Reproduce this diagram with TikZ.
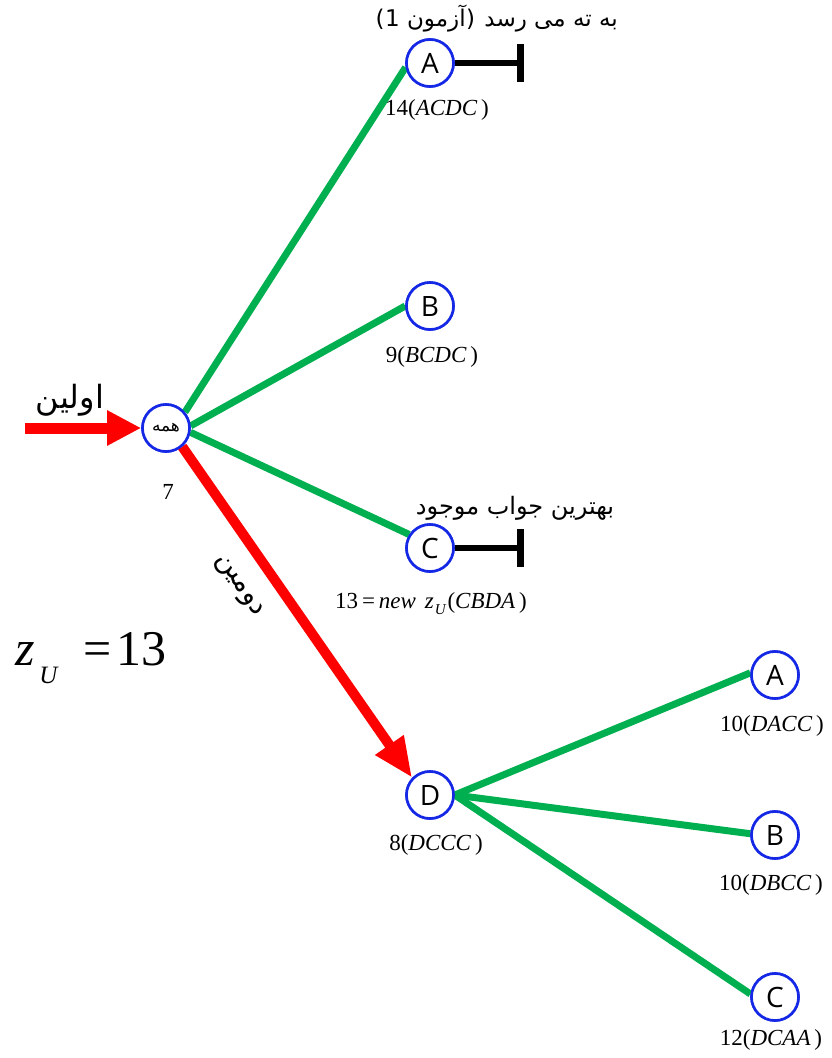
\documentclass[tikz,border=0pt]{standalone}
\usepackage{fontspec}
\setmainfont{Liberation Serif}
\newfontfamily\arabicfont[Script=Arabic]{DejaVu Sans}
\newfontfamily\dvs{DejaVu Sans}
\newfontfamily\lettfont{Open Sans}
\TeXXeTstate=1
\usetikzlibrary{arrows.meta}
\definecolor{grn}{RGB}{0,176,80}
\definecolor{cblue}{RGB}{20,40,230}
\definecolor{rd}{RGB}{255,0,0}
\tikzset{
  st/.style={circle, draw=cblue, line width=2.6pt, minimum size=47pt, inner sep=0pt, fill=white, font=\lettfont\fontsize{28}{28}\selectfont},
  gedge/.style={draw=grn, line width=7pt},
  bararm/.style={draw=black, line width=5.5pt},
  barend/.style={draw=black, line width=7pt},
  redarr/.style={draw=rd, line width=11pt, -{Triangle[length=34pt,width=33pt]}},
  redarr2/.style={draw=rd, line width=10pt, -{Triangle[length=40pt,width=32pt]}},
  lab/.style={inner sep=0pt, font=\fontsize{23}{23}\selectfont},
  fa/.style={inner sep=0pt, font=\arabicfont\fontsize{23}{23}\selectfont},
  fab/.style={fa, anchor=base east},
  ltb/.style={inner sep=0pt, anchor=base east, font=\dvs\fontsize{23}{23}\selectfont},
  big/.style={inner sep=0pt, anchor=base, font=\fontsize{50}{50}\selectfont},
}
\begin{document}
\begin{tikzpicture}[x=1pt,y=-1pt]
\useasboundingbox (0,0) rectangle (832,1058);
\fill[white] (0,0) rectangle (832,1058);
\node[st] (hme) at (166,428) {\arabicfont\fontsize{17}{17}\selectfont\beginR همه\endR};
\node[st] (A) at (430,63) {A};
\node[st] (B) at (430,306) {B};
\node[st] (C) at (430,548) {C};
\node[st] (D) at (430,795) {D};
\node[st] (A2) at (775,675) {A};
\node[st] (B2) at (775,835) {B};
\node[st] (C2) at (775,997) {C};
\draw[gedge] (hme.40) -- (A.190);
\draw[gedge] (hme.5) -- (B.180);
\draw[gedge] (hme.-10) -- (C.147);
\draw[gedge] (D.0) -- (A2.175);
\draw[gedge] (D.0) -- (B2.177);
\draw[gedge] (D.0) -- (C2.173);
\draw[redarr2] (hme.-49) -- (D.136);
\coordinate (st0) at (25,428);
\draw[redarr] (st0) -- (hme.west);
% redraw nodes on top
\node[st] at (hme) {\arabicfont\fontsize{17}{17}\selectfont\beginR همه\endR};
\node[st] at (A) {A};
\node[st] at (B) {B};
\node[st] at (C) {C};
\node[st] at (D) {D};
\node[st] at (A2) {A};
\node[st] at (B2) {B};
\node[st] at (C2) {C};
% bars
\coordinate (Ab) at (520,63);
\coordinate (Cb) at (520,548);
\draw[bararm] (A.east) -- (Ab);
\draw[barend] ([yshift=19pt]Ab) -- ([yshift=-19pt]Ab);
\draw[bararm] (C.east) -- (Cb);
\draw[barend] ([yshift=19pt]Cb) -- ([yshift=-19pt]Cb);
% labels
\node[lab] (lA) at (437,110) {14(\textit{ACDC}\,)};
\node[lab] (lB) at (432,357) {9(\textit{BCDC}\,)};
\node[lab] (lC) at (431,604) {13\,=\,\textit{new}\hspace{9pt}\textit{z}\hspace{1pt}\raisebox{-6pt}{\fontsize{15}{15}\selectfont\textit{U}}\hspace{1pt}(\textit{CBDA}\,)};
\node[lab] (lD) at (436,845) {8(\textit{DCCC}\,)};
\node[lab] (lA2) at (772,726) {10(\textit{DACC}\,)};
\node[lab] (lB2) at (771,885) {10(\textit{DBCC}\,)};
\node[lab] (lC2) at (771,1040) {12(\textit{DCAA}\,)};
\node[lab] (l7) at (168,492) {7};
% z_U = 13
\node[big] (zz) at (25,665) {\textit{z}};
\node[big, font=\fontsize{25}{25}\selectfont] (zsub) at (49,683) {\textit{U}};
\node[big] (zeq) at (98,665) {=};
\node[big] (z13) at (141,665) {13};
% persian texts (top label built right to left from pieces)
\node[fab] (t1a) at (618,26) {\beginR به ته می رسد\endR};
\node[ltb] (t1b) at ([xshift=-9pt]t1a.base west) {)};
\node[fab] (t1c) at (t1b.base west) {آزمون};
\node[ltb] (t1d) at ([xshift=-7pt]t1c.base west) {1};
\node[ltb] (t1e) at (t1d.base west) {(};
\node[fa, font=\arabicfont\fontsize{24}{24}\selectfont] (t2) at (515,508) {\beginR بهترین جواب موجود\endR};
\node[fa, font=\arabicfont\fontsize{32}{32}\selectfont] (t3) at (70,400) {\beginR اولین\endR};
\node[fa, font=\arabicfont\fontsize{28}{28}\selectfont, rotate=-56] (t4) at (238,586) {\beginR دومین\endR};
\end{tikzpicture}
\end{document}
